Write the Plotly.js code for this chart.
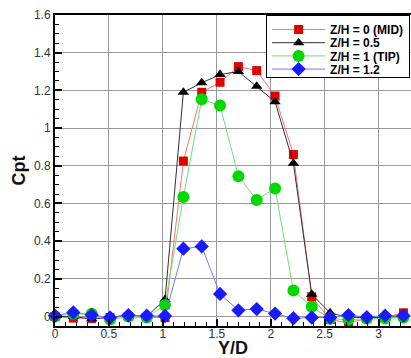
<!DOCTYPE html>
<html>
<head>
<meta charset="utf-8">
<script src="https://cdn.plot.ly/plotly-3.0.1.min.js"></script>
<style>
  html, body { margin: 0; padding: 0; background: #fff; overflow: hidden; }
  #chart { width: 411px; height: 358px; }
</style>
</head>
<body>
<div id="chart"></div>
<script>
// Spanwise stations Y/D
const yd = [0, 0.17, 0.34, 0.51, 0.68, 0.85, 1.02, 1.19, 1.36, 1.53, 1.70, 1.87,
            2.04, 2.21, 2.38, 2.55, 2.72, 2.89, 3.06, 3.23];

// Cpt at each height Z/H
const cptMid = [0.0, -0.008, -0.01, -0.005, 0.0, -0.005, -0.005, 0.825, 1.19, 1.243,
                1.326, 1.305, 1.17, 0.86, 0.105, -0.016, -0.033, -0.01, -0.005, 0.02];
const cptHalf = [0.0, 0.0, -0.012, -0.005, 0.01, 0.0, 0.09, 1.19, 1.24, 1.284,
                 1.30, 1.222, 1.14, 0.813, 0.118, 0.02, -0.005, -0.005, -0.005, 0.0];
const cptTip = [0.0, 0.015, 0.015, -0.016, 0.0, -0.005, 0.062, 0.635, 1.153, 1.12,
                0.745, 0.619, 0.68, 0.138, 0.052, -0.012, -0.016, -0.012, -0.01, -0.005];
const cptAbove = [0.005, 0.022, 0.008, -0.005, 0.007, 0.005, 0.003, 0.36, 0.372, 0.12,
                  0.033, 0.04, 0.016, -0.009, -0.005, -0.005, 0.008, -0.003, 0.005, 0.005];

const seriesNames = ['Z/H = 0 (MID)', 'Z/H = 0.5', 'Z/H = 1 (TIP)', 'Z/H = 1.2'];
const xTitle = 'Y/D';
const yTitle = 'Cpt';

const traces = [
  { y: cptMid,   name: seriesNames[0], line: { color: '#ff7070', width: 1 },
    marker: { symbol: 'square', size: 9, color: '#e00000' } },
  { y: cptHalf,  name: seriesNames[1], line: { color: '#303030', width: 1 },
    marker: { symbol: 'triangle-up', size: 10, color: '#000000' } },
  { y: cptTip,   name: seriesNames[2], line: { color: '#70e070', width: 1 },
    marker: { symbol: 'circle', size: 12, color: '#00d800' } },
  { y: cptAbove, name: seriesNames[3], line: { color: '#7878ff', width: 1 },
    marker: { symbol: 'diamond', size: 11, color: '#1a1aff' } }
].map(t => Object.assign({ x: yd, type: 'scatter', mode: 'lines+markers', cliponaxis: false }, t));

const family = 'Liberation Sans, Arial, sans-serif';
const tickFont = { family: family, size: 12, color: '#333333' };
const titleFont = { family: family, size: 18, color: '#111111' };

const layout = {
  width: 411,
  height: 358,
  margin: { l: 55, r: 0, t: 15, b: 32, autoexpand: false },
  paper_bgcolor: '#ffffff',
  plot_bgcolor: '#ffffff',
  showlegend: true,
  xaxis: {
    range: [0, 3.3],
    tick0: 0, dtick: 0.5,
    ticks: 'inside', ticklen: 7, tickwidth: 2, tickcolor: '#000',
    showline: true, linewidth: 2, linecolor: '#000', mirror: true,
    showgrid: true, gridcolor: '#9a9a9a', gridwidth: 1,
    zeroline: false,
    tickfont: tickFont,
    ticklabelstandoff: -4,
    minor: { dtick: 0.1, ticks: 'inside', ticklen: 4, tickwidth: 1, tickcolor: '#000', showgrid: false }
  },
  yaxis: {
    range: [-0.05, 1.6],
    tick0: 0, dtick: 0.2,
    ticks: 'inside', ticklen: 7, tickwidth: 2, tickcolor: '#000',
    showline: true, linewidth: 2, linecolor: '#000',
    showgrid: true, gridcolor: '#9a9a9a', gridwidth: 1,
    zeroline: false,
    tickfont: tickFont,
    minor: { dtick: 0.05, ticks: 'inside', ticklen: 4, tickwidth: 1, tickcolor: '#000', showgrid: false }
  },
  // Axis titles placed as paper annotations so they sit clear of the tick labels
  annotations: [
    { text: '<b>' + xTitle + '</b>', xref: 'paper', yref: 'paper', x: 0.5, y: 0,
      xanchor: 'center', yanchor: 'middle', yshift: -22, borderpad: 0, showarrow: false, font: titleFont },
    { text: '<b>' + yTitle + '</b>', xref: 'paper', yref: 'paper', x: 0, y: 0.5,
      xanchor: 'center', yanchor: 'middle', xshift: -37, textangle: -90, showarrow: false, font: titleFont }
  ],
  legend: {
    x: 0.593, y: 1, xanchor: 'left', yanchor: 'top',
    bgcolor: '#ffffff', bordercolor: '#000', borderwidth: 1,
    itemwidth: 53,
    font: { family: family, size: 12, color: '#000', weight: 'bold' }
  }
};

// Tighten the legend rows to a compact line spacing
function compactLegend(gd) {
  const leg = gd.querySelector('g.legend');
  if (!leg) return;
  const rows = leg.querySelectorAll('g.traces');
  const rowGap = 13.2, firstRow = 14.5;
  rows.forEach((g, i) => {
    const m = /translate\(\s*([-\d.]+)/.exec(g.getAttribute('transform') || '');
    const tx = m ? parseFloat(m[1]) : 0;
    g.setAttribute('transform', 'translate(' + tx + ',' + (firstRow + i * rowGap) + ')');
  });
  const bg = leg.querySelector('rect.bg');
  if (bg) bg.setAttribute('height', firstRow + (rows.length - 1) * rowGap + 8);
}

Plotly.newPlot('chart', traces, layout, { staticPlot: true, displayModeBar: false })
  .then(compactLegend);
</script>
</body>
</html>
